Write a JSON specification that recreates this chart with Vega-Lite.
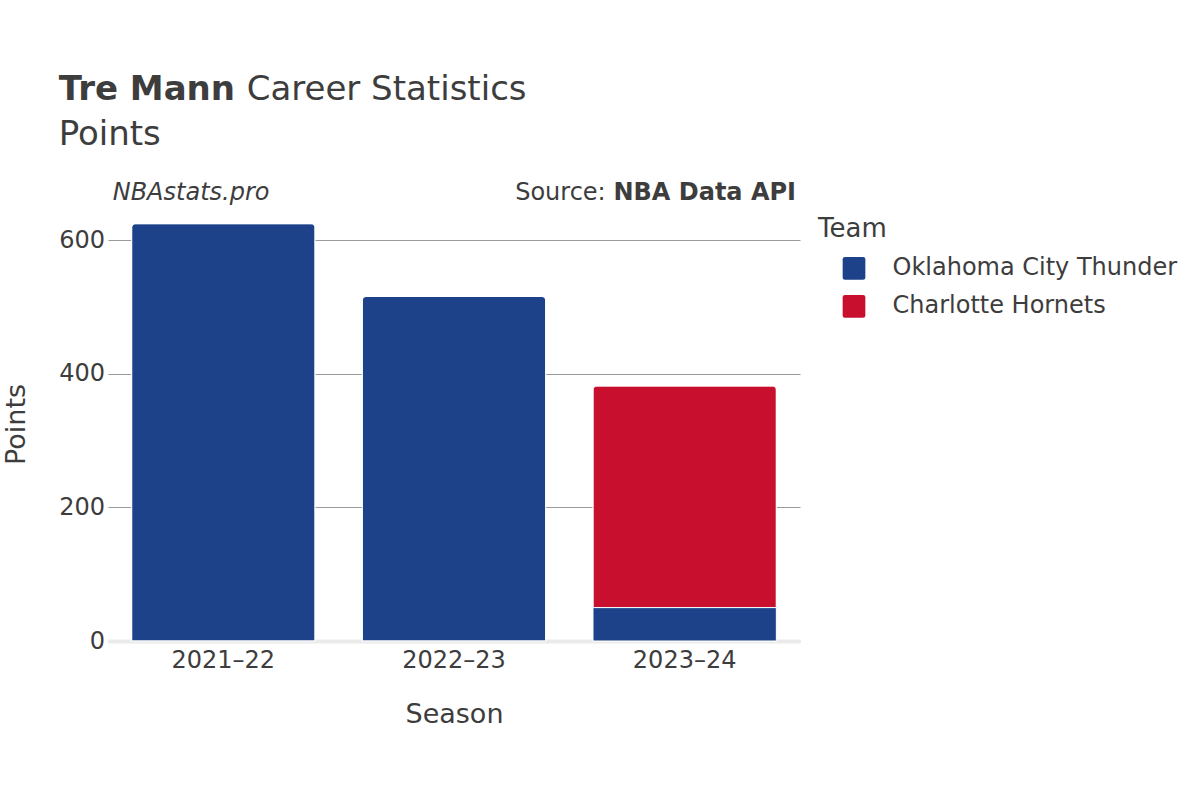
{
  "$schema": "https://vega.github.io/schema/vega-lite/v6.json",
  "background": "white",
  "padding": {"left": 2, "top": 72, "right": 0, "bottom": 0},
  "config": {
    "font": "DejaVu Sans",
    "view": {"stroke": null},
    "concat": {"spacing": 0},
    "title": {"color": "#3d3d3d", "subtitleColor": "#3d3d3d", "font": "DejaVu Sans", "subtitleFont": "DejaVu Sans"},
    "axis": {"titleFontWeight": "normal", "labelColor": "#3d3d3d", "titleColor": "#3d3d3d"},
    "legend": {"titleFontWeight": "normal", "labelColor": "#3d3d3d", "titleColor": "#3d3d3d"}
  },
  "datasets": {
    "points": [
      {"Season": "2021–22", "Team": "Oklahoma City Thunder", "Points": 625},
      {"Season": "2022–23", "Team": "Oklahoma City Thunder", "Points": 516},
      {"Season": "2023–24", "Team": "Oklahoma City Thunder", "Points": 50},
      {"Season": "2023–24", "Team": "Charlotte Hornets", "Points": 332}
    ]
  },
  "title": {"text": "Career Statistics", "anchor": "start", "frame": "bounds", "fontSize": 34, "fontWeight": "normal", "offset": 0, "dx": 244, "dy": 34},
  "vconcat": [
    {
      "title": {"text": "Tre Mann", "subtitle": "Points", "anchor": "start", "frame": "bounds", "fontSize": 34, "fontWeight": "bold", "subtitleFontSize": 34, "subtitleFontWeight": "normal", "subtitlePadding": 11, "offset": 29.5, "dx": 56},
      "vconcat": [
        {
          "title": {"text": "NBAstats.pro", "anchor": "start", "frame": "bounds", "fontSize": 24, "fontWeight": "normal", "fontStyle": "italic", "offset": 0, "dy": 24, "dx": 110},
          "vconcat": [
            {
              "title": {"text": "Source:", "anchor": "start", "align": "right", "frame": "bounds", "fontSize": 24, "fontWeight": "normal", "offset": 0, "dy": 24, "dx": 603},
              "vconcat": [
                {
                  "title": {"text": "NBA Data API", "anchor": "end", "frame": "group", "fontSize": 24, "fontWeight": "bold", "offset": 2, "dx": -4},
                  "width": 692,
                  "height": 434,
                  "data": {"name": "points"},
                  "encoding": {
                    "x": {
                      "field": "Season", "type": "nominal", "title": "Season",
                      "scale": {"paddingInner": 0.205, "paddingOuter": 0.1025},
                      "axis": {"labelAngle": 0, "labelFontSize": 24, "labelPadding": 7.8, "ticks": false, "tickSize": 0, "domainColor": "#ebebeb", "domainWidth": 4, "titleFontSize": 27, "titlePadding": 28.7}
                    },
                    "y": {
                      "field": "Points", "type": "quantitative", "title": "Points", "stack": "zero",
                      "scale": {"domain": [0, 650], "nice": false},
                      "axis": {"values": [0, 200, 400, 600], "labelFontSize": 24, "labelPadding": 3.5, "ticks": false, "tickSize": 0, "domain": false, "grid": true, "gridColor": "#9a9a9a", "gridWidth": 1, "titleFontSize": 27, "titlePadding": 28}
                    },
                    "color": {
                      "field": "Team", "type": "nominal", "title": "Team",
                      "scale": {"domain": ["Oklahoma City Thunder", "Charlotte Hornets"], "range": ["#1d428a", "#c8102e"]},
                      "legend": {
                        "orient": "right", "offset": 9, "padding": 9,
                        "titleFontSize": 26, "titlePadding": 14.3, "labelFontSize": 24, "labelLimit": 500,
                        "symbolType": "M -0.8 -1 L 0.8 -1 Q 1 -1 1 -0.8 L 1 0.8 Q 1 1 0.8 1 L -0.8 1 Q -1 1 -1 0.8 L -1 -0.8 Q -1 -1 -0.8 -1 Z",
                        "symbolSize": 515, "symbolStrokeWidth": 0, "symbolOpacity": 1,
                        "rowPadding": 14, "symbolOffset": 24, "labelOffset": 26.5
                      }
                    },
                    "order": {"field": "Team", "sort": "descending"}
                  },
                  "layer": [
                    {
                      "mark": {"type": "bar", "cornerRadiusTopLeft": 4, "cornerRadiusTopRight": 4, "stroke": "white", "strokeWidth": 1}
                    },
                    {
                      "transform": [{"filter": "datum.Season === '2023–24' && datum.Team === 'Oklahoma City Thunder'"}],
                      "mark": {"type": "bar", "stroke": "white", "strokeWidth": 1}
                    }
                  ]
                }
              ]
            }
          ]
        }
      ]
    }
  ]
}
